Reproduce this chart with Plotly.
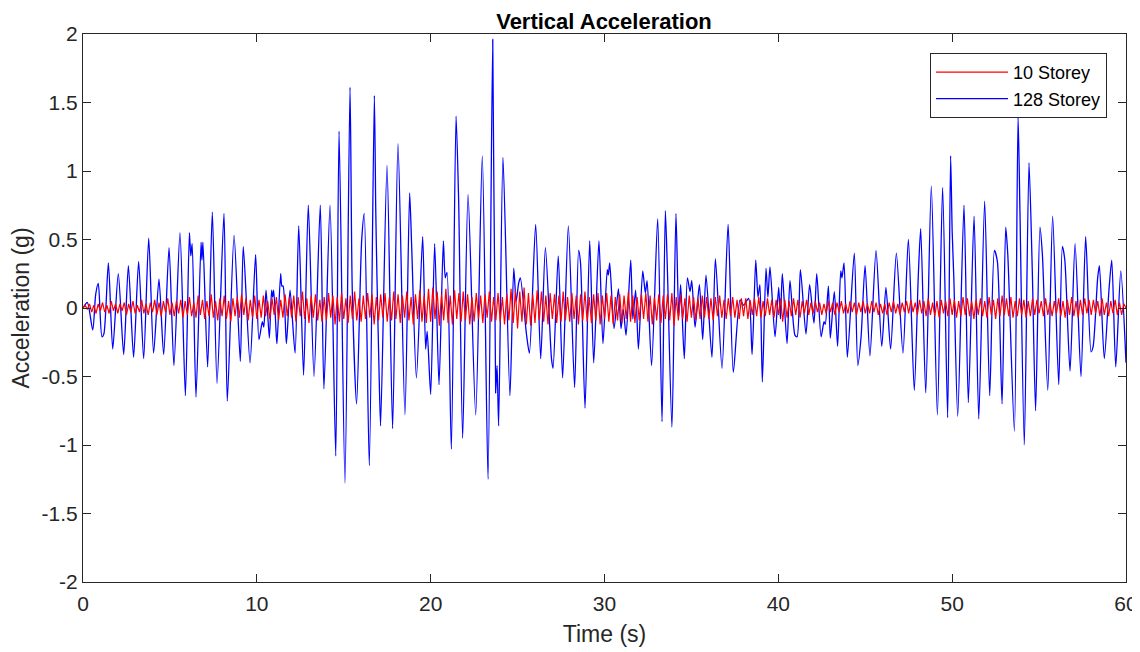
import numpy as np
import plotly.graph_objects as go

# ---------------- data ----------------
blue_t = [0.00, 0.25, 0.56, 0.73, 0.88, 1.09, 1.20, 1.46, 1.71, 2.03, 2.34, 2.61, 2.91, 3.20, 3.49, 3.78,
          4.06, 4.37, 4.64, 4.95, 5.23, 5.58, 5.89, 6.12, 6.20, 6.28, 6.50, 6.79, 6.84, 6.90, 7.17, 7.44,
          7.71, 8.11, 8.30, 8.69, 9.05, 9.22, 9.61, 9.93, 10.12, 10.32, 10.40, 10.53, 10.72, 10.85, 10.91,
          10.97, 11.12, 11.16, 11.37, 11.44, 11.51, 11.70, 11.91, 12.20, 12.41, 12.69, 12.96, 13.29, 13.65,
          13.86, 14.21, 14.54, 14.73, 15.07, 15.36, 15.49, 15.74, 16.03, 16.18, 16.47, 16.76, 16.84, 16.91,
          17.02, 17.12, 17.49, 17.81, 18.12, 18.52, 18.79, 18.91, 19.18, 19.54, 19.71, 19.80, 20.00, 20.23,
          20.48, 20.73, 20.84, 20.94, 21.19, 21.46, 21.61, 21.84, 22.15, 22.59, 22.97, 23.30, 23.57, 23.74,
          23.82, 23.91, 24.16, 24.56, 24.78, 24.92, 25.06, 25.16, 25.51, 25.68, 26.04, 26.33, 26.60, 26.95,
          27.04, 27.34, 27.59, 27.92, 28.28, 28.51, 28.62, 28.88, 29.15, 29.38, 29.68, 29.91, 30.16, 30.22,
          30.30, 30.55, 30.80, 30.95, 31.08, 31.24, 31.51, 31.63, 31.79, 31.95, 32.20, 32.35, 32.45, 32.71,
          33.06, 33.31, 33.50, 33.62, 33.88, 34.11, 34.27, 34.38, 34.59, 34.77, 34.92, 35.02, 35.21, 35.46,
          35.65, 35.84, 36.18, 36.38, 36.76, 37.11, 37.41, 37.80, 38.00, 38.29, 38.49, 38.70, 38.83, 38.94,
          39.08, 39.29, 39.40, 39.52, 39.81, 40.02, 40.12, 40.23, 40.50, 40.67, 40.96, 41.08, 41.27, 41.59,
          41.80, 42.05, 42.21, 42.46, 42.63, 42.70, 42.88, 42.99, 43.22, 43.41, 43.59, 43.66, 43.78, 43.97,
          44.37, 44.57, 44.76, 44.99, 45.27, 45.62, 45.95, 46.19, 46.46, 46.79, 47.17, 47.48, 47.82, 48.05,
          48.19, 48.48, 48.80, 49.15, 49.45, 49.74, 49.91, 50.00, 50.10, 50.32, 50.68, 50.93, 51.26, 51.53,
          51.87, 52.16, 52.43, 52.60, 52.87, 53.08, 53.20, 53.58, 53.79, 53.90, 54.15, 54.42, 54.61, 54.80,
          55.05, 55.19, 55.50, 55.78, 56.13, 56.34, 56.48, 56.78, 57.07, 57.41, 57.68, 57.99, 58.11, 58.37,
          58.47, 58.75, 59.02, 59.18, 59.41, 59.70, 60.00]
blue_v = [0.00, 0.04, -0.16, 0.10, 0.18, -0.21, -0.19, 0.33, -0.30, 0.25, -0.34, 0.31, -0.36, 0.34, -0.37, 0.51,
          -0.33, 0.21, -0.34, 0.44, -0.42, 0.55, -0.64, 0.55, 0.38, 0.47, -0.65, 0.48, 0.35, 0.48, -0.43, 0.70,
          -0.55, 0.69, -0.68, 0.53, -0.39, 0.45, -0.40, 0.39, -0.23, -0.10, -0.14, 0.13, -0.22, 0.13, 0.08,
          0.13, -0.20, -0.26, 0.25, 0.16, 0.16, -0.26, 0.13, -0.33, 0.60, -0.49, 0.75, -0.50, 0.75,
          -0.59, 0.75, -1.08, 1.29, -1.28, 1.61, 0.13, -0.70, 0.49, 0.69, -1.15, 1.55, 0.72, 0.23,
          -0.40, -0.86, 1.04, -0.88, 1.20, -0.78, 0.84, 0.44, -0.51, 0.52, -0.30, -0.17, -0.63, 0.47,
          -0.56, 0.49, 0.22, 0.26, -1.03, 1.40, 0.78, -0.95, 0.83, -0.78, 1.11, -1.25, 1.96, -0.62,
          -0.42, -0.86, 1.10, -0.64, 0.29, 0.05, 0.18, 0.22, -0.19, -0.33, 0.61, -0.37, 0.44, -0.37,
          -0.44, 0.38, -0.51, 0.60, -0.58, 0.42, 0.33, -0.73, 0.49, -0.40, 0.49, -0.26, 0.28, 0.24,
          0.33, -0.15, 0.14, -0.15, -0.01, -0.20, 0.35, -0.08, 0.13, -0.30, 0.27, 0.11, 0.20, -0.42,
          0.65, -0.83, 0.71, 0.27, -0.87, 0.69, -0.06, 0.17, -0.37, 0.22, 0.12, 0.20, -0.14, 0.17,
          -0.23, 0.24, -0.36, 0.36, -0.44, 0.61, -0.47, 0.06, 0.02, 0.07, -0.34, 0.35, 0.08, 0.17,
          -0.54, 0.29, 0.08, 0.30, -0.21, 0.15, -0.08, 0.25, -0.26, 0.20, -0.20, -0.21, 0.28, -0.19,
          0.17, -0.11, 0.25, -0.21, -0.10, -0.12, 0.16, -0.22, 0.12, -0.28, 0.27, 0.22, 0.33, -0.36,
          0.40, -0.42, -0.21, 0.31, -0.35, 0.42, -0.28, 0.15, -0.30, 0.40, -0.33, 0.50, -0.60, 0.23,
          0.58, -0.62, 0.89, -0.78, 0.88, -0.80, 1.11, 0.56, 0.20, -0.79, 0.75, -0.69, 0.67, -0.81,
          0.78, -0.64, 0.42, 0.34, -0.70, 0.59, 0.39, -0.90, 1.40, 0.70, -1.00, 1.06, 0.27, -0.75,
          0.59, 0.39, -0.60, 0.67, -0.56, 0.45, 0.35, -0.46, 0.47, -0.50, 0.52, -0.32, -0.28, 0.22,
          0.31, -0.37, 0.13, 0.35, -0.43, 0.27, -0.40]

# 10 storey response, sampled every 0.125 s (one row = 2 s)
red_dt = 0.125
red_v = [
    0.00, 0.02, -0.01, 0.03, -0.03, 0.02, -0.04, 0.03, -0.02, 0.04, -0.03, 0.02, -0.04, 0.05, -0.02, 0.03,
    -0.04, 0.03, -0.02, 0.04, -0.05, 0.03, -0.03, 0.05, -0.04, 0.02, -0.03, 0.06, -0.04, 0.03, -0.05, 0.04,
    -0.03, 0.06, -0.05, 0.04, -0.06, 0.05, -0.03, 0.07, -0.05, 0.04, -0.06, 0.05, -0.04, 0.06, -0.07, 0.05,
    -0.05, 0.08, -0.06, 0.04, -0.07, 0.09, -0.05, 0.06, -0.08, 0.05, -0.06, 0.10, -0.07, 0.05, -0.09, 0.07,
    -0.06, 0.09, -0.08, 0.05, -0.10, 0.07, -0.06, 0.08, -0.07, 0.10, -0.05, 0.07, -0.09, 0.06, -0.07, 0.09,
    -0.08, 0.06, -0.07, 0.09, -0.06, 0.05, -0.08, 0.07, -0.05, 0.08, -0.09, 0.06, -0.07, 0.10, -0.06, 0.08,
    -0.07, 0.09, -0.10, 0.08, -0.06, 0.12, -0.08, 0.07, -0.11, 0.09, -0.07, 0.10, -0.09, 0.06, -0.10, 0.08,
    -0.09, 0.11, -0.07, 0.09, -0.12, 0.08, -0.10, 0.11, -0.08, 0.07, -0.11, 0.09, -0.08, 0.12, -0.09, 0.07,
    -0.10, 0.09, -0.08, 0.11, -0.07, 0.10, -0.12, 0.08, -0.09, 0.10, -0.07, 0.11, -0.10, 0.08, -0.09, 0.12,
    -0.08, 0.10, -0.11, 0.09, -0.07, 0.12, -0.09, 0.08, -0.12, 0.10, -0.08, 0.13, -0.10, 0.09, -0.11, 0.14,
    -0.10, 0.15, -0.08, 0.12, -0.13, 0.10, -0.09, 0.14, -0.11, 0.09, -0.12, 0.13, -0.08, 0.11, -0.10, 0.12,
    -0.09, 0.10, -0.12, 0.08, -0.10, 0.11, -0.08, 0.09, -0.11, 0.10, -0.07, 0.12, -0.10, 0.08, -0.09, 0.11,
    -0.10, 0.08, -0.12, 0.10, -0.09, 0.14, -0.11, 0.13, -0.15, 0.12, -0.10, 0.15, -0.12, 0.11, -0.13, 0.10,
    -0.11, 0.13, -0.09, 0.12, -0.10, 0.09, -0.12, 0.11, -0.08, 0.10, -0.11, 0.09, -0.10, 0.12, -0.09, 0.08,
    -0.10, 0.11, -0.08, 0.09, -0.12, 0.10, -0.09, 0.12, -0.10, 0.08, -0.11, 0.10, -0.09, 0.11, -0.12, 0.09,
    -0.08, 0.11, -0.10, 0.09, -0.12, 0.08, -0.09, 0.10, -0.11, 0.09, -0.08, 0.12, -0.10, 0.09, -0.11, 0.08,
    -0.09, 0.10, -0.08, 0.11, -0.10, 0.09, -0.12, 0.08, -0.09, 0.10, -0.11, 0.09, -0.08, 0.10, -0.09, 0.11,
    -0.13, 0.08, -0.09, 0.10, -0.08, 0.07, -0.10, 0.09, -0.07, 0.08, -0.09, 0.07, -0.08, 0.09, -0.07, 0.08,
    -0.08, 0.07, -0.09, 0.08, -0.06, 0.09, -0.07, 0.06, -0.08, 0.07, -0.06, 0.08, -0.07, 0.06, -0.08, 0.07,
    -0.06, 0.07, -0.08, 0.06, -0.05, 0.07, -0.06, 0.08, -0.07, 0.05, -0.06, 0.07, -0.05, 0.06, -0.07, 0.06,
    -0.05, 0.07, -0.10, 0.06, -0.07, 0.05, -0.06, 0.07, -0.05, 0.06, -0.07, 0.05, -0.04, 0.06, -0.05, 0.04,
    -0.04, 0.05, -0.03, 0.04, -0.05, 0.03, -0.04, 0.05, -0.03, 0.04, -0.05, 0.04, -0.03, 0.05, -0.04, 0.03,
    -0.04, 0.05, -0.03, 0.04, -0.05, 0.04, -0.03, 0.05, -0.04, 0.03, -0.04, 0.05, -0.03, 0.04, -0.05, 0.03,
    -0.04, 0.03, -0.05, 0.04, -0.03, 0.05, -0.04, 0.03, -0.05, 0.04, -0.03, 0.05, -0.04, 0.06, -0.03, 0.04,
    -0.05, 0.06, -0.04, 0.05, -0.06, 0.07, -0.05, 0.04, -0.06, 0.05, -0.07, 0.06, -0.04, 0.05, -0.06, 0.07,
    -0.05, 0.06, -0.07, 0.05, -0.06, 0.08, -0.05, 0.07, -0.06, 0.05, -0.08, 0.06, -0.05, 0.07, -0.06, 0.05,
    -0.07, 0.08, -0.05, 0.06, -0.08, 0.07, -0.06, 0.09, -0.05, 0.07, -0.06, 0.08, -0.07, 0.05, -0.06, 0.07,
    -0.05, 0.06, -0.07, 0.05, -0.06, 0.07, -0.05, 0.06, -0.04, 0.05, -0.06, 0.07, -0.05, 0.04, -0.06, 0.05,
    -0.04, 0.07, -0.06, 0.05, -0.07, 0.06, -0.05, 0.08, -0.06, 0.05, -0.07, 0.06, -0.05, 0.07, -0.04, 0.06,
    -0.05, 0.06, -0.04, 0.05, -0.06, 0.07, -0.05, 0.04, -0.06, 0.05, -0.04, 0.06, -0.05, 0.04, -0.05, 0.03,
    0.00]
red_t = [i * red_dt for i in range(len(red_v))]

x_ticks = [0, 10, 20, 30, 40, 50, 60]
x_tick_text = ["0", "10", "20", "30", "40", "50", "60"]
y_ticks = [-2, -1.5, -1, -0.5, 0, 0.5, 1, 1.5, 2]
y_tick_text = ["-2", "-1.5", "-1", "-0.5", "0", "0.5", "1", "1.5", "2"]

FONT = "Liberation Sans, Arial, Helvetica, sans-serif"
DARK = "#262626"

# ---------------- figure ----------------
fig = go.Figure()
fig.add_trace(go.Scatter(x=blue_t, y=blue_v, mode="lines", name="128 Storey",
                         line=dict(color="#0000ff", width=1.3, shape="spline", smoothing=0.7),
                         showlegend=False))
fig.add_trace(go.Scatter(x=red_t, y=red_v, mode="lines", name="10 Storey",
                         line=dict(color="#ff0000", width=1.2)))
# legend entry for blue (order: red first, then blue)
fig.add_trace(go.Scatter(x=[None], y=[None], mode="lines", name="128 Storey",
                         line=dict(color="#0000ff", width=1.3)))

axis_common = dict(showline=True, linecolor=DARK, linewidth=1, mirror="allticks",
                   ticks="inside", ticklen=8, tickcolor=DARK, tickwidth=1,
                   showgrid=False, zeroline=False, automargin=False,
                   tickfont=dict(family=FONT, size=21, color=DARK))

fig.update_xaxes(range=[0, 60], tickvals=x_ticks, ticktext=x_tick_text,
                 ticklabelstandoff=3,
                 title=dict(text="Time (s)", standoff=11,
                            font=dict(family=FONT, size=23, color=DARK)),
                 **axis_common)
fig.update_yaxes(range=[-2, 2], tickvals=y_ticks, ticktext=y_tick_text,
                 title=dict(text="Acceleration (g)", standoff=5,
                            font=dict(family=FONT, size=23, color=DARK)),
                 **axis_common)

# the page adds an 8 px body margin, so the figure is sized to fit the window
fig.update_layout(
    width=1132, height=644,
    margin=dict(l=75, r=14, t=26, b=70),
    paper_bgcolor="white", plot_bgcolor="white",
    title=dict(text="<b>Vertical Acceleration</b>", x=596 / 1132, xanchor="center", xref="container",
               y=1 - 13 / 644, yanchor="middle", yref="container",
               font=dict(family=FONT, size=22, color="black")),
    legend=dict(x=0.9818, y=0.9653, xanchor="right", yanchor="top",
                bgcolor="white", bordercolor=DARK, borderwidth=1,
                font=dict(family=FONT, size=18, color="black"),
                tracegroupgap=0, itemwidth=72),
    showlegend=True,
)

fig.write_html("out.html")
